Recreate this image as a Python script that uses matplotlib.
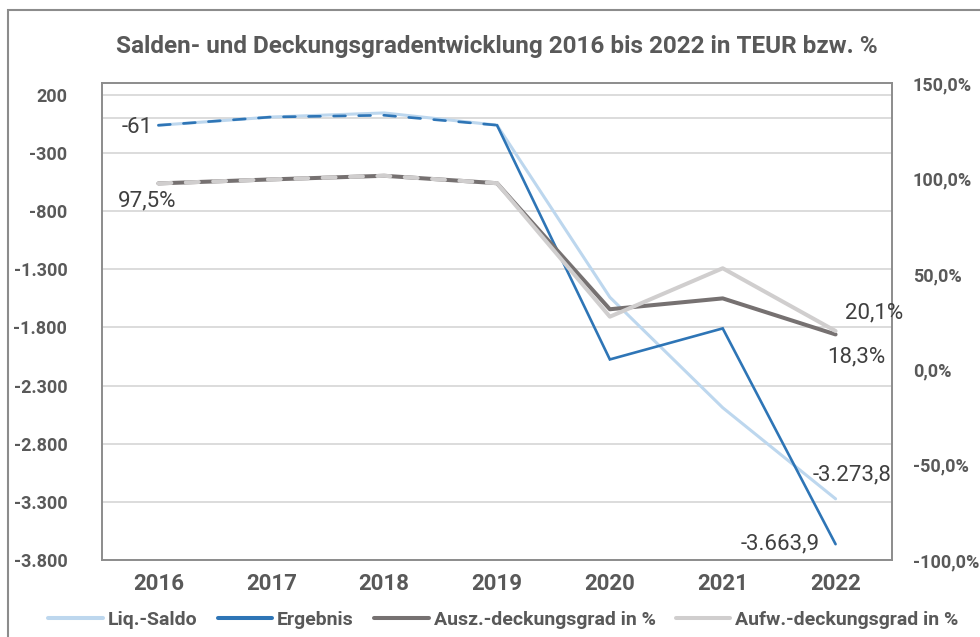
import matplotlib

matplotlib.use("Agg")
import matplotlib.pyplot as plt
from matplotlib.lines import Line2D
from matplotlib.patches import Rectangle

plt.rcParams["font.family"] = ["Roboto", "DejaVu Sans"]

years = ["2016", "2017", "2018", "2019", "2020", "2021", "2022"]
liq_saldo = [-61, 10, 45, -60, -1540, -2490, -3273.8]
ergebnis = [-61, 10, 25, -60, -2075, -1808, -3663.9]
ausz_grad = [97.5, 99.6, 101.5, 97.6, 31.5, 37.2, 18.3]
aufw_grad = [97.5, 99.6, 101.5, 97.6, 27.6, 53.0, 20.1]
left_ticks = [-3800, -3300, -2800, -2300, -1800, -1300, -800, -300, 200]
right_ticks = [-100, -50, 0, 50, 100, 150]
series_names = ["Liq.-Saldo", "Ergebnis", "Ausz.-deckungsgrad in %", "Aufw.-deckungsgrad in %"]

TEXT = "#595959"
LABEL = "#404040"
C_LIQ = "#BDD7EE"
C_ERG = "#2E75B6"
C_AUSZ = "#767171"
C_AUFW = "#D0CECE"


def de_num(value, decimals=0):
    s = f"{value:,.{decimals}f}"
    return s.replace(",", "X").replace(".", ",").replace("X", ".")


fig = plt.figure(figsize=(9.8, 6.37), dpi=100)
ax = fig.add_axes([102 / 980, 1 - 560 / 637, 790 / 980, (560 - 83.3) / 637])
ax2 = ax.twinx()

x = list(range(len(years)))
split = 3  # first years drawn dashed

# primary axis: TEUR
ax.plot(x, liq_saldo, color=C_LIQ, linewidth=2.2, solid_capstyle="round", zorder=3)
ax.plot(x[split:], ergebnis[split:], color=C_ERG, linewidth=1.9,
        solid_capstyle="round", solid_joinstyle="miter", zorder=4)
ax.plot(x[:split + 1], ergebnis[:split + 1], color=C_ERG, linewidth=1.9,
        dashes=(4.5, 5.0), dash_capstyle="round", zorder=4)

# secondary axis: percent
ax2.plot(x, ausz_grad, color=C_AUSZ, linewidth=2.9, solid_capstyle="round", zorder=3)
ax2.plot(x[split:], aufw_grad[split:], color=C_AUFW, linewidth=2.9,
         solid_capstyle="round", zorder=4)
ax2.plot(x[:split + 1], aufw_grad[:split + 1], color=C_AUFW, linewidth=2.9,
         dashes=(3.2, 3.6), dash_capstyle="round", zorder=4)

ax.set_xlim(-0.5, len(years) - 0.5)
ax.set_ylim(-3800, 300)
ax2.set_ylim(-100, 150)

ax.set_yticks(left_ticks)
ax.set_yticklabels([de_num(v) for v in left_ticks], fontweight="bold")
ax2.set_yticks(right_ticks)
ax2.set_yticklabels([de_num(v, 1) + "%" for v in right_ticks], fontweight="bold")
ax.set_xticks(x)
ax.set_xticklabels(years, fontweight="bold")

ax.tick_params(axis="y", length=0, pad=25, labelsize=13, labelcolor=TEXT)
ax2.tick_params(axis="y", length=0, pad=15, labelsize=13, labelcolor=TEXT)
ax.tick_params(axis="x", length=0, pad=9, labelsize=16, labelcolor=TEXT)

ax.grid(axis="y", color="#D9D9D9", linewidth=1.3)
ax.set_axisbelow(True)
ax.axhline(0, color="#D9D9D9", linewidth=1.3, zorder=1)
for sp in list(ax.spines.values()) + list(ax2.spines.values()):
    sp.set_color("#8C8C8C")
    sp.set_linewidth(1.2)

# data labels
lbl = dict(textcoords="offset pixels", fontsize=16, color=LABEL)
ax.annotate(de_num(ergebnis[0]), (0, ergebnis[0]), xytext=(-6, -2),
            ha="right", va="center", **lbl)
ax.annotate(de_num(liq_saldo[-1], 1), (6, liq_saldo[-1]), xytext=(-23, 24),
            ha="left", va="center", **lbl)
ax.annotate(de_num(ergebnis[-1], 1), (6, ergebnis[-1]), xytext=(-16, 0),
            ha="right", va="center", **lbl)
ax2.annotate(de_num(ausz_grad[0], 1) + "%", (0, ausz_grad[0]), xytext=(-11, -18),
             ha="center", va="center", **lbl)
ax2.annotate(de_num(aufw_grad[-1], 1) + "%", (6, aufw_grad[-1]), xytext=(9, 18),
             ha="left", va="center", **lbl)
ax2.annotate(de_num(ausz_grad[-1], 1) + "%", (6, ausz_grad[-1]), xytext=(-8, -23),
             ha="left", va="center", **lbl)

fig.text(496.5 / 980, 1 - 46 / 637,
         "Salden- und Deckungsgradentwicklung 2016 bis 2022 in TEUR bzw. %",
         ha="center", va="center", fontsize=17.5, fontweight="bold", color=TEXT)

handles = [
    Line2D([], [], color=C_LIQ, linewidth=2.9, solid_capstyle="round"),
    Line2D([], [], color=C_ERG, linewidth=2.9, solid_capstyle="round"),
    Line2D([], [], color=C_AUSZ, linewidth=2.9, solid_capstyle="round"),
    Line2D([], [], color=C_AUFW, linewidth=2.9, solid_capstyle="round"),
]
leg = fig.legend(handles, series_names, loc="center", bbox_to_anchor=(503.5 / 980, 1 - 620 / 637),
                 ncol=4, frameon=False, fontsize=14, handlelength=2.8, handletextpad=0.25,
                 columnspacing=1.05)
for t in leg.get_texts():
    t.set_fontweight("bold")
    t.set_color(TEXT)

# chart border (cropped on right and bottom)
fig.patches.append(Rectangle((8 / 980, -0.05), 1.1, 1 - 9.5 / 637 + 0.05, transform=fig.transFigure,
                             fill=False, edgecolor="#8C8C8C", linewidth=1.5))

fig.savefig("out.png", dpi=100)
